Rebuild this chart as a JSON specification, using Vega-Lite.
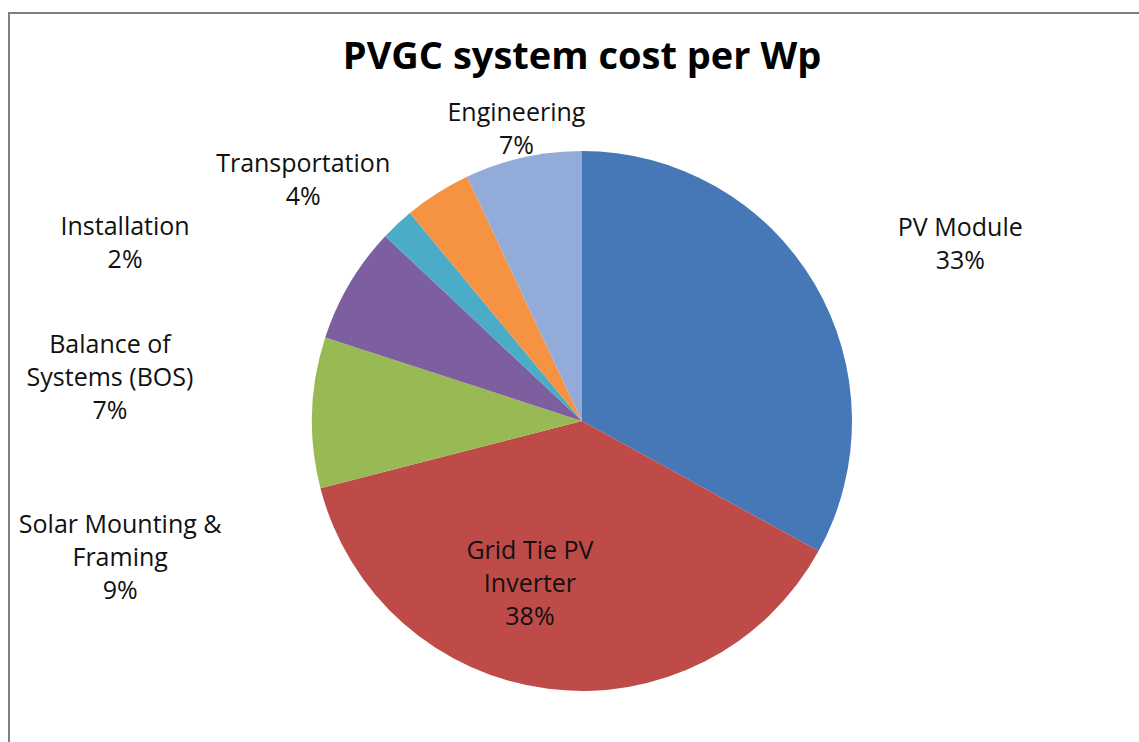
{
  "$schema": "https://vega.github.io/schema/vega-lite/v6.json",
  "width": 1146,
  "height": 816,
  "autosize": "none",
  "padding": {"left": 9, "top": 13, "right": 0, "bottom": 0},
  "background": "white",
  "view": {"stroke": "#7f7f7f", "strokeWidth": 2, "fill": "white"},
  "config": {"view": {"stroke": "#7f7f7f", "strokeWidth": 2}},
  "title": {"text": "PVGC system cost per Wp", "font": "Open Sans", "fontSize": 38, "fontWeight": "bold", "color": "#000000", "anchor": "middle", "frame": "group", "offset": -57, "dy": 37, "baseline": "alphabetic"},
  "data": {"values": [
    {"item": "PV Module", "share": 33, "k": 1, "label": "PV Module\n33%"},
    {"item": "Grid Tie PV Inverter", "share": 38, "k": 2, "label": "Grid Tie PV\nInverter\n38%"},
    {"item": "Solar Mounting & Framing", "share": 9, "k": 3, "label": "Solar Mounting &\nFraming\n9%"},
    {"item": "Balance of Systems (BOS)", "share": 7, "k": 4, "label": "Balance of\nSystems (BOS)\n7%"},
    {"item": "Installation", "share": 2, "k": 5, "label": "Installation\n2%"},
    {"item": "Transportation", "share": 4, "k": 6, "label": "Transportation\n4%"},
    {"item": "Engineering", "share": 7, "k": 7, "label": "Engineering\n7%"}
  ]},
  "encoding": {
    "theta": {"field": "share", "type": "quantitative", "stack": true},
    "order": {"field": "k", "type": "quantitative"}
  },
  "layer": [
    {
      "mark": {"type": "arc", "outerRadius": 270},
      "encoding": {
        "color": {"field": "item", "type": "nominal", "legend": null,
          "scale": {"domain": ["PV Module", "Grid Tie PV Inverter", "Solar Mounting & Framing", "Balance of Systems (BOS)", "Installation", "Transportation", "Engineering"],
                    "range": ["#4677B6", "#BE4B48", "#98B954", "#7D5FA0", "#4AACC6", "#F59343", "#93ABD8"]}}
      }
    },
    {
      "mark": {"type": "text", "radius": 400, "dx": 34, "dy": 11, "font": "Open Sans", "fontSize": 25, "lineHeight": 33, "lineBreak": "\n", "color": "#111111", "align": "center", "baseline": "middle"},
      "encoding": {"text": {"condition": {"test": "datum.item === 'PV Module'", "field": "label"}, "value": ""}}
    },
    {
      "mark": {"type": "text", "radius": 160, "dx": -32, "dy": -29, "font": "Open Sans", "fontSize": 25, "lineHeight": 33, "lineBreak": "\n", "color": "#111111", "align": "center", "baseline": "middle"},
      "encoding": {"text": {"condition": {"test": "datum.item === 'Grid Tie PV Inverter'", "field": "label"}, "value": ""}}
    },
    {
      "mark": {"type": "text", "radius": 330, "dx": -132, "dy": 114, "font": "Open Sans", "fontSize": 25, "lineHeight": 33, "lineBreak": "\n", "color": "#111111", "align": "center", "baseline": "middle"},
      "encoding": {"text": {"condition": {"test": "datum.item === 'Solar Mounting & Framing'", "field": "label"}, "value": ""}}
    },
    {
      "mark": {"type": "text", "radius": 330, "dx": -188, "dy": 92, "font": "Open Sans", "fontSize": 25, "lineHeight": 33, "lineBreak": "\n", "color": "#111111", "align": "center", "baseline": "middle"},
      "encoding": {"text": {"condition": {"test": "datum.item === 'Balance of Systems (BOS)'", "field": "label"}, "value": ""}}
    },
    {
      "mark": {"type": "text", "radius": 330, "dx": -231, "dy": 47, "font": "Open Sans", "fontSize": 25, "lineHeight": 33, "lineBreak": "\n", "color": "#111111", "align": "center", "baseline": "middle"},
      "encoding": {"text": {"condition": {"test": "datum.item === 'Installation'", "field": "label"}, "value": ""}}
    },
    {
      "mark": {"type": "text", "radius": 330, "dx": -102, "dy": 22, "font": "Open Sans", "fontSize": 25, "lineHeight": 33, "lineBreak": "\n", "color": "#111111", "align": "center", "baseline": "middle"},
      "encoding": {"text": {"condition": {"test": "datum.item === 'Transportation'", "field": "label"}, "value": ""}}
    },
    {
      "mark": {"type": "text", "radius": 310, "dx": 2, "dy": -5, "font": "Open Sans", "fontSize": 25, "lineHeight": 33, "lineBreak": "\n", "color": "#111111", "align": "center", "baseline": "middle"},
      "encoding": {"text": {"condition": {"test": "datum.item === 'Engineering'", "field": "label"}, "value": ""}}
    }
  ]
}
